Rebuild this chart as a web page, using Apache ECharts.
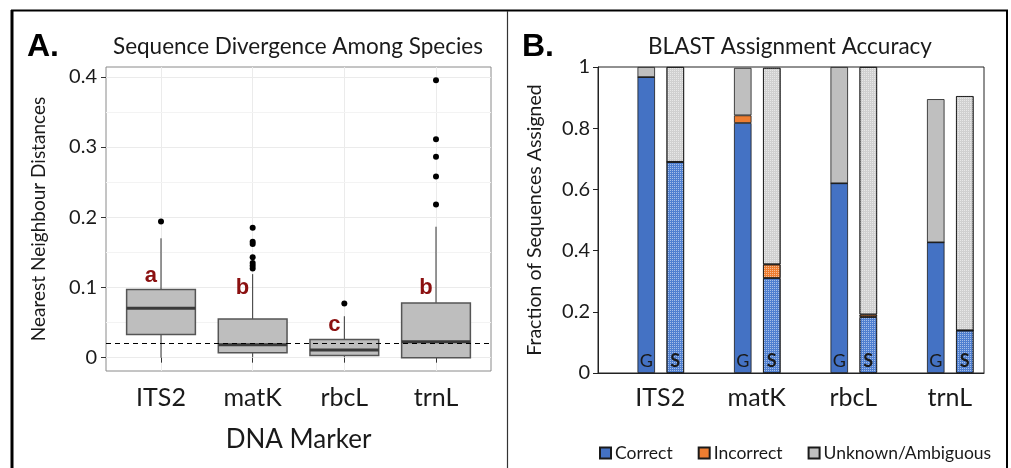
<!DOCTYPE html>
<html>
<head>
<meta charset="utf-8">
<script src="https://cdn.jsdelivr.net/npm/echarts@6/dist/echarts.min.js"></script>
<style>
  html, body { margin: 0; padding: 0; background: #fff; }
  #chart { width: 1011px; height: 468px; }
</style>
</head>
<body>
<div id="chart"></div>
<script>
// markers on both panels
var markers = ['ITS2', 'matK', 'rbcL', 'trnL'];

// panel A: nearest neighbour distance boxplots
var whiskerLow  = [0.000, 0.001, 0.001, 0.000];
var q1          = [0.033, 0.007, 0.003, 0.000];
var median      = [0.0705, 0.0185, 0.011, 0.0225];
var q3          = [0.097, 0.055, 0.026, 0.078];
var whiskerHigh = [0.170, 0.119, 0.059, 0.1865];
var outliers = [
    [0.194],
    [0.185, 0.165, 0.162, 0.143, 0.135, 0.131, 0.127],
    [0.077],
    [0.395, 0.311, 0.286, 0.258, 0.218]
];
var groupLetters = ['a', 'b', 'c', 'b'];
var letterHeight = [0.117, 0.099, 0.047, 0.099];
var threshold = 0.02;
var minorGrid = [0.05, 0.15, 0.25, 0.35];

// panel B: BLAST assignment fractions (G = genus, S = species)
var gCorrect   = [0.967, 0.817, 0.620, 0.427];
var gIncorrect = [0.000, 0.025, 0.000, 0.000];
var gUnknown   = [0.033, 0.155, 0.380, 0.468];
var sCorrect   = [0.690, 0.310, 0.183, 0.139];
var sIncorrect = [0.000, 0.045, 0.008, 0.000];
var sUnknown   = [0.310, 0.642, 0.809, 0.766];

var FONT = 'Lato';
var BLUE = '#4472C4', ORANGE = '#ED7D31', GREY = '#BFBFBF';

var boxData = markers.map(function(m, i) {
    return [i + 1, whiskerLow[i], q1[i], median[i], q3[i], whiskerHigh[i]];
});
var outlierData = [];
outliers.forEach(function(list, i) {
    list.forEach(function(v) { outlierData.push([i + 1, v]); });
});
var letterData = groupLetters.map(function(l, i) {
    return { value: [i + 0.89, letterHeight[i]], label: { formatter: l } };
});

// ggplot-like box: no whisker caps, heavy median
function renderBox(params, api) {
    var x = api.value(0);
    var low = api.coord([x, api.value(1)]);
    var lo = api.coord([x, api.value(2)]);
    var mid = api.coord([x, api.value(3)]);
    var hi = api.coord([x, api.value(4)]);
    var high = api.coord([x, api.value(5)]);
    var half = api.size([0.75, 0])[0] / 2;
    var stroke = { stroke: '#333', lineWidth: 1 };
    return {
        type: 'group',
        children: [
            { type: 'line', shape: { x1: low[0], y1: low[1], x2: lo[0], y2: lo[1] }, style: stroke },
            { type: 'line', shape: { x1: hi[0], y1: hi[1], x2: high[0], y2: high[1] }, style: stroke },
            { type: 'rect', shape: { x: lo[0] - half, y: hi[1], width: half * 2, height: lo[1] - hi[1] },
              style: { fill: '#bebebe', stroke: '#555', lineWidth: 1.5 } },
            { type: 'line', shape: { x1: mid[0] - half, y1: mid[1], x2: mid[0] + half, y2: mid[1] },
              style: { stroke: '#3a3a3a', lineWidth: 3 } }
        ]
    };
}

var speckle = {
    symbol: 'rect', symbolSize: 1,
    dashArrayX: [1, 1], dashArrayY: [1, 1],
    color: 'rgba(255,255,255,0.5)'
};

var barBase = {
    type: 'bar', xAxisIndex: 1, yAxisIndex: 1,
    barWidth: 17.5, barGap: '66%',
    itemStyle: { borderColor: '#1a1a1a', borderWidth: 0.8 }
};
function barSeries(name, stack, data, color, extra) {
    var s = Object.assign({}, barBase, { name: name, stack: stack, data: data });
    s.itemStyle = Object.assign({}, barBase.itemStyle, { color: color });
    if (stack === 'S') s.itemStyle.decal = speckle;
    return Object.assign(s, extra || {});
}
function letterLabel(txt, bold) {
    return {
        label: {
            show: true, position: 'insideBottom', distance: 3,
            formatter: txt, fontFamily: FONT, fontSize: 18,
            fontWeight: bold ? 'bold' : 'normal', color: '#1a1a1a'
        }
    };
}

var chart = echarts.init(document.getElementById('chart'), null, { renderer: 'canvas' });

var option = {
    animation: false,
    textStyle: { fontFamily: FONT },
    graphic: [
        // outer frame and divider
        { type: 'line', shape: { x1: 12, y1: 10, x2: 12, y2: 468 }, style: { stroke: '#000', lineWidth: 3 } },
        { type: 'line', shape: { x1: 11, y1: 10.5, x2: 1008, y2: 10.5 }, style: { stroke: '#000', lineWidth: 2 } },
        { type: 'line', shape: { x1: 1007, y1: 10, x2: 1007, y2: 468 }, style: { stroke: '#000', lineWidth: 2 } },
        { type: 'line', shape: { x1: 507.5, y1: 11, x2: 507.5, y2: 468 }, style: { stroke: '#333', lineWidth: 1.2 } },
        { type: 'text', left: 27, top: 31, style: { text: 'A.', font: 'bold 32px "Liberation Sans"', fill: '#000' } },
        { type: 'text', left: 522, top: 31, style: { text: 'B.', font: 'bold 32px "Liberation Sans"', fill: '#000' } },
        { type: 'text', x: 298, y: 47, style: { text: 'Sequence Divergence Among Species', font: '22.5px Lato', fill: '#1a1a1a', align: 'center', verticalAlign: 'middle' } },
        { type: 'text', x: 790, y: 47, style: { text: 'BLAST Assignment Accuracy', font: '22.5px Lato', fill: '#1a1a1a', align: 'center', verticalAlign: 'middle' } }
    ],
    legend: {
        left: 594, top: 439,
        itemWidth: 11, itemHeight: 11, itemGap: 25,
        icon: 'rect',
        data: ['Correct', 'Incorrect', 'Unknown/Ambiguous'],
        textStyle: { fontFamily: FONT, fontSize: 17.5, color: '#1a1a1a', padding: [0, 0, 0, -1] }
    },
    grid: [
        { left: 106, top: 67, width: 385, height: 304, show: true, borderColor: '#8a8a8a', borderWidth: 1, backgroundColor: '#fff' },
        { left: 598, top: 67, width: 386, height: 306, show: true, borderColor: '#222', borderWidth: 1 }
    ],
    xAxis: [
        {
            type: 'value', gridIndex: 0, min: 0.4, max: 4.6,
            name: 'DNA Marker', nameLocation: 'middle', nameGap: 56,
            nameTextStyle: { fontFamily: FONT, fontSize: 26, color: '#1a1a1a' },
            axisLine: { show: false },
            axisTick: { show: true, length: 5, customValues: [1, 2, 3, 4], lineStyle: { color: '#333' } },
            axisLabel: {
                customValues: [1, 2, 3, 4], margin: 14,
                fontFamily: FONT, fontSize: 25, color: '#1a1a1a',
                formatter: function(v) { return markers[Math.round(v) - 1] || ''; }
            },
            splitLine: { show: true, lineStyle: { color: '#ebebeb', width: 1 } }
        },
        {
            type: 'category', gridIndex: 1, data: markers,
            axisLine: { show: true, lineStyle: { color: '#222' } },
            axisTick: { show: false },
            axisLabel: { margin: 12, fontFamily: FONT, fontSize: 25, color: '#1a1a1a', padding: [0, 0, 0, 28] }
        }
    ],
    yAxis: [
        {
            type: 'value', gridIndex: 0, min: -0.019, max: 0.414,
            name: 'Nearest Neighbour Distances', nameLocation: 'middle', nameGap: 58,
            nameTextStyle: { fontFamily: FONT, fontSize: 19, color: '#1a1a1a' },
            axisLine: { show: false },
            axisTick: { show: true, length: 5, customValues: [0, 0.1, 0.2, 0.3, 0.4], lineStyle: { color: '#333' } },
            axisLabel: {
                customValues: [0, 0.1, 0.2, 0.3, 0.4], margin: 9,
                fontFamily: FONT, fontSize: 20, color: '#1a1a1a',
                formatter: function(v) { return v === 0 ? '0' : v.toFixed(1); }
            },
            splitLine: { show: true, lineStyle: { color: '#ebebeb', width: 1 } }
        },
        {
            type: 'value', gridIndex: 1, min: 0, max: 1, interval: 0.2,
            name: 'Fraction of Sequences Assigned', nameLocation: 'middle', nameGap: 53,
            nameTextStyle: { fontFamily: FONT, fontSize: 19.5, color: '#1a1a1a' },
            axisLine: { show: true, lineStyle: { color: '#222' } },
            axisTick: { show: true, length: 5, lineStyle: { color: '#222' } },
            axisLabel: {
                margin: 8, fontFamily: FONT, fontSize: 20, color: '#1a1a1a',
                formatter: function(v) { return (v === 0 || v === 1) ? String(v) : v.toFixed(1); }
            },
            splitLine: { show: false }
        }
    ],
    series: [
        // faint minor grid under the boxes
        {
            type: 'line', xAxisIndex: 0, yAxisIndex: 0, data: [], z: 0, silent: true,
            markLine: {
                z: 0, silent: true, symbol: 'none', label: { show: false },
                lineStyle: { color: '#f3f3f3', width: 1, type: 'solid' },
                data: minorGrid.map(function(v) { return { yAxis: v }; })
            }
        },
        {
            type: 'custom', xAxisIndex: 0, yAxisIndex: 0, z: 3,
            renderItem: renderBox,
            encode: { x: 0, y: [1, 2, 3, 4, 5] },
            data: boxData
        },
        {
            type: 'scatter', xAxisIndex: 0, yAxisIndex: 0, z: 6,
            symbolSize: 6, itemStyle: { color: '#000', opacity: 1 },
            data: outlierData,
            markLine: {
                z: 6, silent: true, symbol: 'none', label: { show: false },
                lineStyle: { color: '#000', width: 1.2, type: [5, 4] },
                data: [{ yAxis: threshold }]
            }
        },
        {
            type: 'scatter', xAxisIndex: 0, yAxisIndex: 0, z: 7,
            symbolSize: 0, itemStyle: { opacity: 1 },
            label: { show: true, position: 'inside', fontFamily: 'Liberation Sans', fontWeight: 'bold', fontSize: 22, color: '#8B1010' },
            data: letterData
        },
        // empty slot keeps the G/S pair to the right of each category
        barSeries('spacer', 'pad', markers.map(function() { return null; }), 'transparent'),
        barSeries('Correct', 'G', gCorrect, BLUE, letterLabel('G', false)),
        barSeries('Incorrect', 'G', gIncorrect, ORANGE),
        barSeries('Unknown/Ambiguous', 'G', gUnknown, GREY),
        barSeries('Correct', 'S', sCorrect, '#4F7FD0', letterLabel('S', true)),
        barSeries('Incorrect', 'S', sIncorrect, ORANGE),
        barSeries('Unknown/Ambiguous', 'S', sUnknown, '#D0D0D0')
    ]
};

chart.setOption(option);
</script>
</body>
</html>
